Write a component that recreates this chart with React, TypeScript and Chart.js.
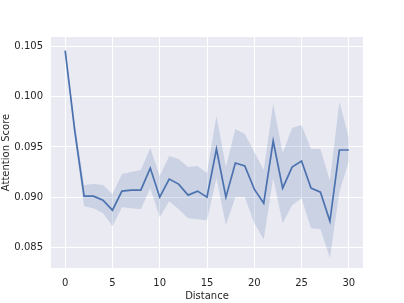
import React, { useEffect, useRef } from "react";
import { Chart, registerables } from "chart.js";

Chart.register(...registerables);

const distances = [0, 1, 2, 3, 4, 5, 6, 7, 8, 9, 10, 11, 12, 13, 14, 15, 16, 17, 18, 19, 20, 21, 22, 23, 24, 25, 26, 27, 28, 29, 30];
const meanScore = [0.1046, 0.0967, 0.0901, 0.0901, 0.0897, 0.0887, 0.0906, 0.0907, 0.0907, 0.0929, 0.0900, 0.0918, 0.0913, 0.0902, 0.0906, 0.0900, 0.0948, 0.0900, 0.0934, 0.0931, 0.0908, 0.0894, 0.0956, 0.0909, 0.0930, 0.0936, 0.0909, 0.0905, 0.0876, 0.0947, 0.0947];
const upperScore = [0.1047, 0.0975, 0.0912, 0.0913, 0.0912, 0.0903, 0.0923, 0.0925, 0.0927, 0.0949, 0.0921, 0.0941, 0.0938, 0.0930, 0.0931, 0.0924, 0.0981, 0.0930, 0.0968, 0.0963, 0.0945, 0.0927, 0.0993, 0.0944, 0.0969, 0.0972, 0.0948, 0.0948, 0.0916, 0.0995, 0.0959];
const lowerScore = [0.1045, 0.0960, 0.0891, 0.0889, 0.0884, 0.0871, 0.0890, 0.0889, 0.0888, 0.0909, 0.0880, 0.0896, 0.0888, 0.0879, 0.0878, 0.0877, 0.0919, 0.0872, 0.0900, 0.0900, 0.0874, 0.0858, 0.0919, 0.0874, 0.0892, 0.0899, 0.0869, 0.0868, 0.0839, 0.0905, 0.0936];
const xTicks = [0, 5, 10, 15, 20, 25, 30];
const yTicks = [0.085, 0.09, 0.095, 0.1, 0.105];

const FONT = "'DejaVu Sans', sans-serif";
const TEXT = "#262626";
const FS = 10;

const bgPlugin = {
  id: "plotBg",
  beforeDraw(chart: any) {
    const { ctx, chartArea } = chart;
    ctx.save();
    ctx.fillStyle = "#eaeaf2";
    ctx.fillRect(chartArea.left, chartArea.top, chartArea.right - chartArea.left, chartArea.bottom - chartArea.top);
    ctx.restore();
  },
};

export default function App() {
  const ref = useRef<HTMLCanvasElement | null>(null);
  useEffect(() => {
    if (!ref.current) return;
    const pts = (arr: number[]) => distances.map((d, i) => ({ x: d, y: arr[i] }));
    const chart = new Chart(ref.current, {
      type: "line",
      data: {
        datasets: [
          {
            data: pts(lowerScore),
            borderWidth: 0,
            borderColor: "rgba(0,0,0,0)",
            pointRadius: 0,
            fill: false,
            tension: 0,
          },
          {
            data: pts(upperScore),
            borderWidth: 0,
            borderColor: "rgba(0,0,0,0)",
            backgroundColor: "rgba(76,114,176,0.2)",
            pointRadius: 0,
            fill: "-1",
            tension: 0,
          },
          {
            data: pts(meanScore),
            borderWidth: 1.7,
            borderColor: "#4c72b0",
            pointRadius: 0,
            fill: false,
            tension: 0,
          },
        ],
      },
      options: {
        animation: false,
        responsive: false,
        layout: { padding: { left: 0, top: 37, right: 41, bottom: 0 } },
        plugins: { legend: { display: false }, tooltip: { enabled: false } },
        scales: {
          x: {
            type: "linear",
            min: -1.5,
            max: 31.5,
            afterBuildTicks: (axis: any) => {
              axis.ticks = xTicks.map((v) => ({ value: v }));
            },
            afterFit: (scale: any) => {
              scale.height = 35;
            },
            grid: { color: "#ffffff", lineWidth: 1, drawTicks: false },
            border: { display: false },
            ticks: {
              padding: 9,
              color: TEXT,
              font: { family: FONT, size: FS },
              maxRotation: 0,
              callback: (v: any) => String(v),
            },
            title: {
              display: true,
              text: "Distance",
              color: TEXT,
              font: { family: FONT, size: FS },
              padding: { top: 0, bottom: 1 },
            },
          },
          y: {
            type: "linear",
            min: 0.08294,
            max: 0.10596,
            afterBuildTicks: (axis: any) => {
              axis.ticks = yTicks.map((v) => ({ value: v }));
            },
            afterFit: (scale: any) => {
              scale.width = 51;
            },
            grid: { color: "#ffffff", lineWidth: 1, drawTicks: false },
            border: { display: false },
            ticks: {
              padding: 8,
              color: TEXT,
              font: { family: FONT, size: FS },
              callback: (v: any) => Number(v).toFixed(3),
            },
            title: {
              display: true,
              text: "Attention Score",
              color: TEXT,
              font: { family: FONT, size: FS },
              padding: { top: 0, bottom: 0 },
            },
          },
        },
      },
      plugins: [bgPlugin],
    });
    return () => chart.destroy();
  }, []);
  return (
    <div style={{ position: "fixed", left: 0, top: 0, width: 404, height: 303, background: "#fff" }}>
      <canvas ref={ref} width={404} height={303} style={{ width: 404, height: 303 }} />
    </div>
  );
}
